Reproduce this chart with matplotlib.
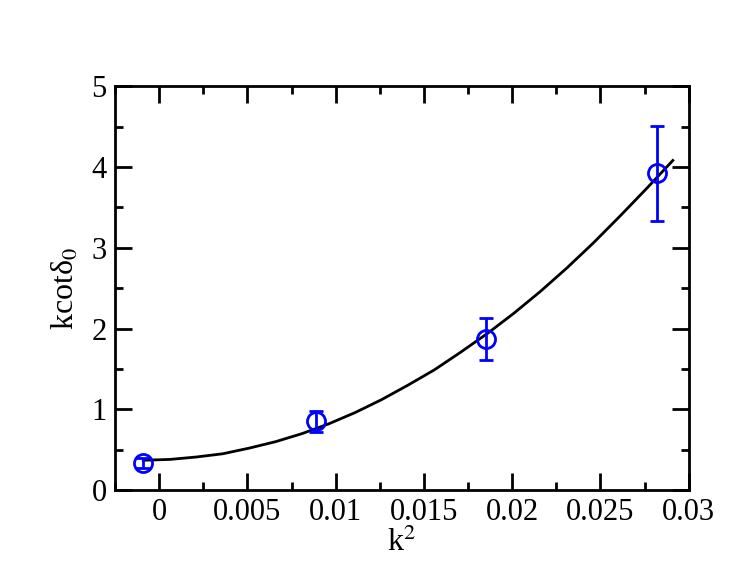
import numpy as np
import matplotlib
matplotlib.use('Agg')
import matplotlib.pyplot as plt
from matplotlib.ticker import MultipleLocator

plt.rcParams['font.family'] = ['Liberation Serif', 'DejaVu Serif']
plt.rcParams['mathtext.fontset'] = 'stix'

# data points with error bars
k2 = [-0.0009, 0.0089, 0.0185, 0.0282]
kcot = [0.34, 0.85, 1.87, 3.92]
err = [0.06, 0.13, 0.26, 0.59]

# fitted curve
fit_x = [-0.0009, 0.0006, 0.0021, 0.0036, 0.0051, 0.0066, 0.0081,
         0.0096, 0.0111, 0.0126, 0.0141, 0.0156, 0.0171, 0.0186,
         0.0201, 0.0216, 0.0231, 0.0246, 0.0261, 0.0276, 0.0291]
fit_y = [0.37, 0.38, 0.41, 0.45, 0.52, 0.60, 0.70,
         0.82, 0.96, 1.12, 1.30, 1.49, 1.71, 1.94,
         2.19, 2.46, 2.75, 3.06, 3.39, 3.73, 4.08]

fig = plt.figure(figsize=(7.47, 5.78), dpi=100)
ax = fig.add_axes([0.154, 0.152, 0.768, 0.699])

ax.plot(fit_x, fit_y, color='black', lw=2)
ax.errorbar(k2, kcot, yerr=err, fmt='o', color='#0000ff', mfc='none',
            mec='#0000ff', ms=13, mew=2, elinewidth=2, capsize=5, capthick=2)

ax.set_xlim(-0.0025, 0.03)
ax.set_ylim(0, 5)
ax.xaxis.set_minor_locator(MultipleLocator(0.0025))
ax.yaxis.set_major_locator(MultipleLocator(1))
ax.yaxis.set_minor_locator(MultipleLocator(0.5))
ax.set_xticks([0, 0.005, 0.01, 0.015, 0.02, 0.025, 0.03])
ax.set_xticklabels(['0', '0.005', '0.01', '0.015', '0.02', '0.025', '0.03'])

ax.tick_params(which='both', direction='in', top=True, right=True,
               labelsize=22, width=2)
ax.tick_params(which='major', length=12, pad=6)
ax.tick_params(which='minor', length=6)
for s in ax.spines.values():
    s.set_linewidth(2)

ax.set_xlabel(r'k$^{2}$', fontsize=23, labelpad=0)
ax.set_ylabel(r'kcotδ$_{0}$', fontsize=23, labelpad=8)

fig.savefig('out.png', dpi=100)
